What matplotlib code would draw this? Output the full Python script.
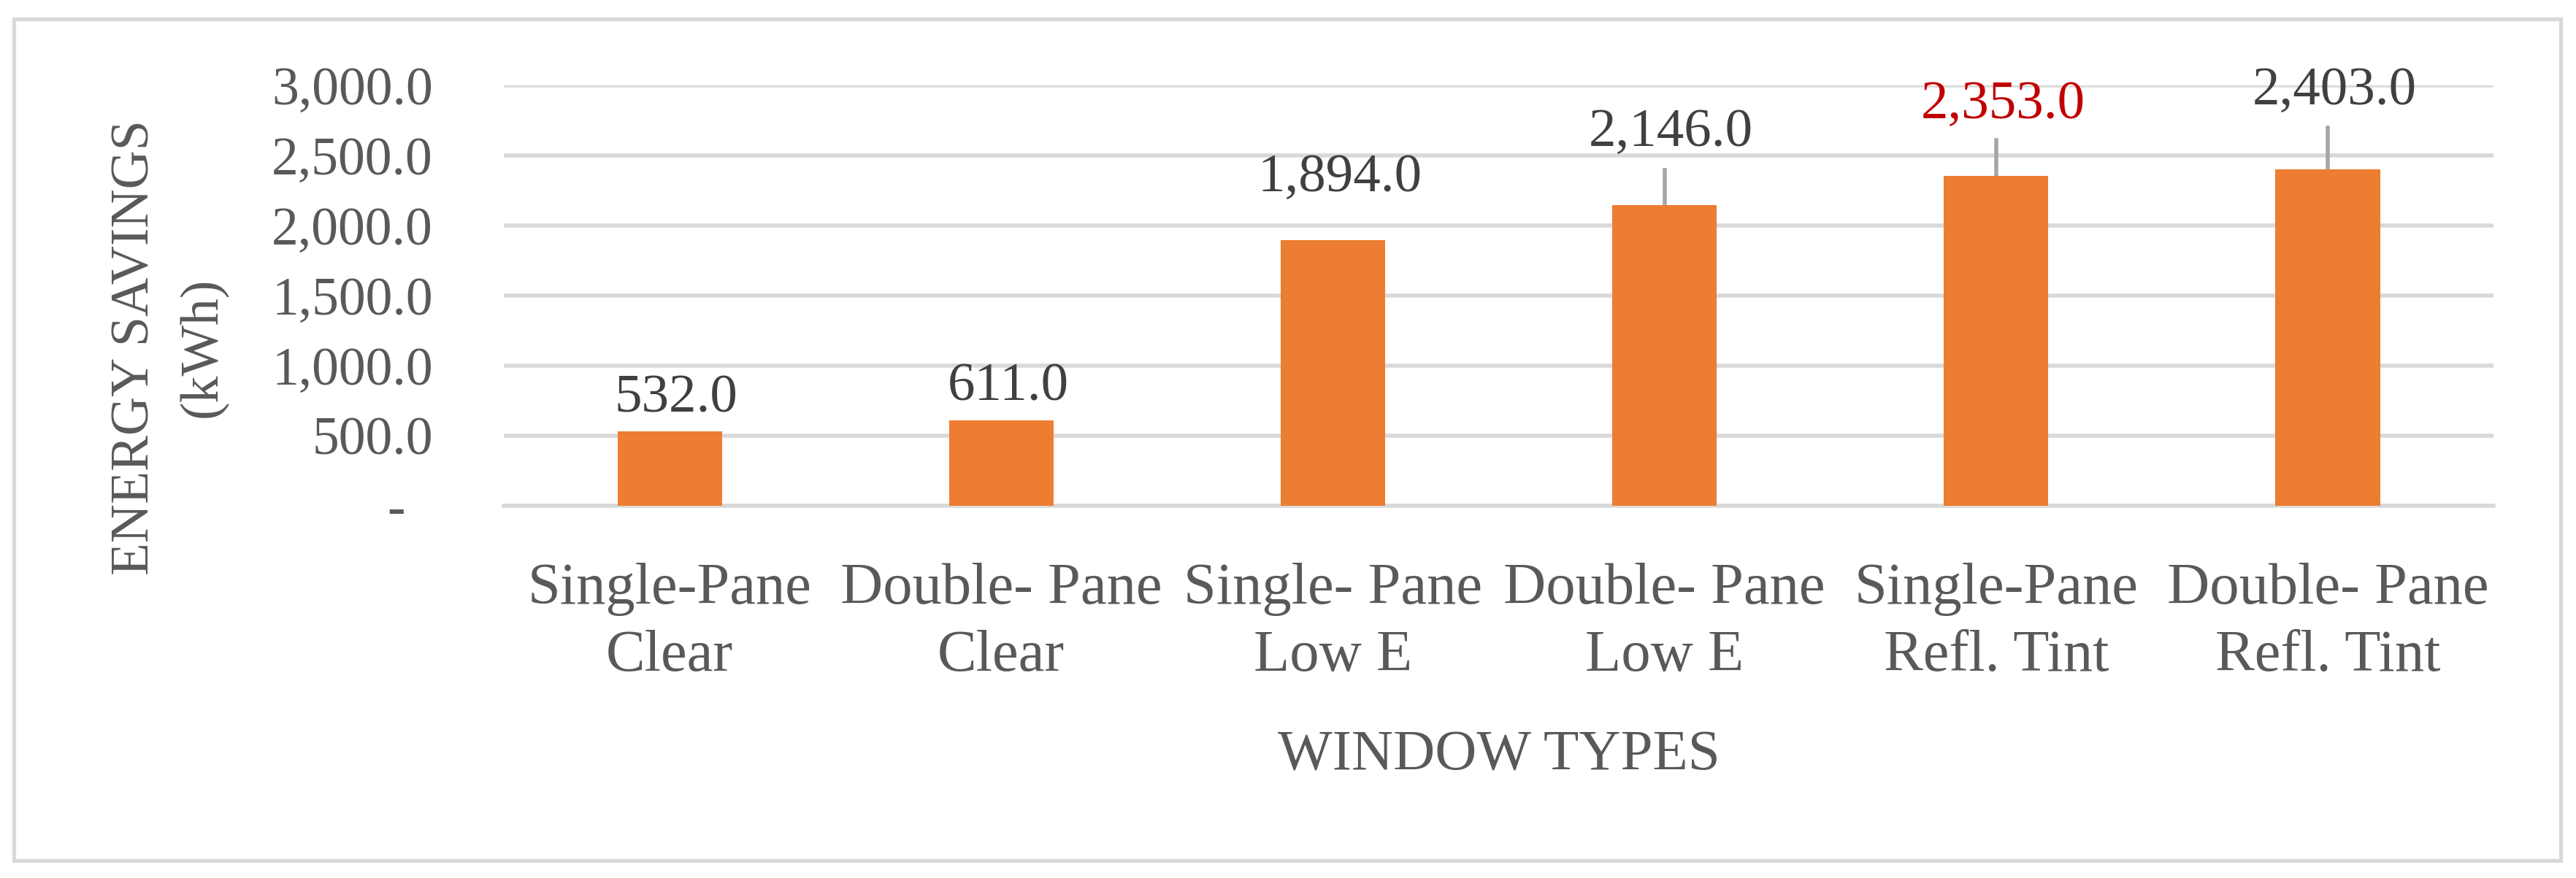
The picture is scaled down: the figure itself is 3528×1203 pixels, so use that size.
import matplotlib
matplotlib.use("Agg")
import matplotlib.pyplot as plt
from matplotlib.patches import Rectangle
from matplotlib.ticker import FuncFormatter


categories = ["Single-Pane\nClear", "Double- Pane\nClear", "Single- Pane\nLow E",
              "Double- Pane\nLow E", "Single-Pane\nRefl. Tint", "Double- Pane\nRefl. Tint"]
savings = [532.0, 611.0, 1894.0, 2146.0, 2353.0, 2403.0]
y_ticks = [0, 500, 1000, 1500, 2000, 2500, 3000]

# where the data labels were dragged to (baseline, in kWh) and leader line ends
label_base = [671, 754, 2243, 2570, 2768, 2867]
leader_top = [None, None, None, 2398, 2612, 2700]
label_colors = ["#404040", "#404040", "#404040", "#404040", "#C00000", "#404040"]

plt.rcParams['font.family'] = ['Liberation Serif', 'DejaVu Serif']

fig = plt.figure(figsize=(35.28, 12.03), dpi=100)
fig.patches.append(Rectangle((0.0054, 0.020), 0.9887, 0.9584, transform=fig.transFigure,
                             fill=False, edgecolor="#d9d9d9", linewidth=3.8))

ax = fig.add_axes([0.1956, 0.4239, 0.7724, 0.4788])
x = range(len(categories))
ax.bar(x, savings, width=0.315, color="#ED7D31", zorder=3)

for i, v in enumerate(savings):
    if leader_top[i] is not None:
        ax.plot([i, i], [v, leader_top[i]], color="#a6a6a6", linewidth=4, zorder=2)
    ax.text(i + 0.02, label_base[i], f"{v:,.1f}", ha="center", va="baseline",
            fontsize=54, color=label_colors[i])

ax.set_xlim(-0.5, len(categories) - 0.5)
ax.set_ylim(0, 3000)
ax.set_yticks(y_ticks)
ax.yaxis.set_major_formatter(FuncFormatter(lambda v, p: "-\u2007" if v == 0 else f"{v:,.1f}"))
ax.set_xticks(list(x))
ax.set_xticklabels(categories, linespacing=1.35, fontsize=58)
ax.tick_params(axis="both", length=0, labelcolor="#595959")
ax.tick_params(axis="y", labelsize=53, pad=70)
ax.tick_params(axis="x", pad=56)

ax.grid(True, axis="y", color="#d9d9d9", linewidth=4, zorder=0)
for s in ["top", "right", "left"]:
    ax.spines[s].set_visible(False)
ax.spines["bottom"].set_color("#d9d9d9")
ax.spines["bottom"].set_linewidth(4)

ax.set_xlabel("WINDOW TYPES", fontsize=57, color="#595959", va="baseline")
ax.xaxis.set_label_coords(0.5, -0.627)
ax.set_ylabel("ENERGY SAVINGS\n(kWh)", fontsize=53, color="#595959", linespacing=1.49, va="center")
ax.yaxis.set_label_coords(-0.168, 0.377)

fig.savefig("out.png", dpi=100)
